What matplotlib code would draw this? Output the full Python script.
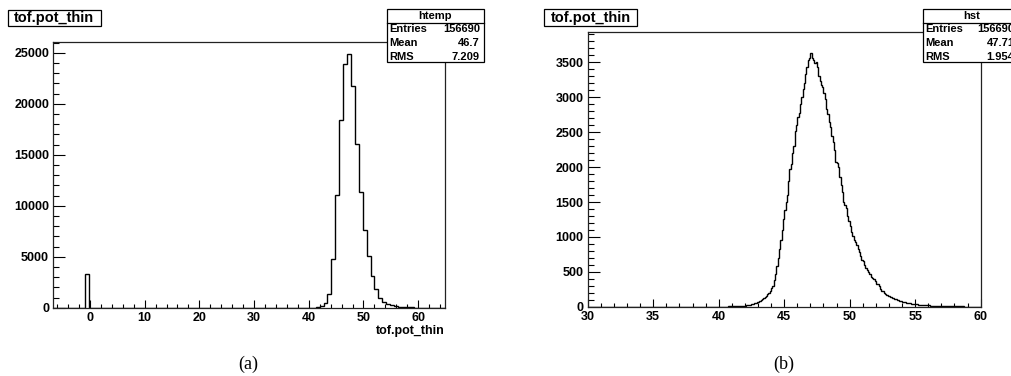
import matplotlib
matplotlib.use("Agg")
import matplotlib.pyplot as plt
import numpy as np
from matplotlib.ticker import MultipleLocator
from matplotlib.patches import Rectangle
from matplotlib.lines import Line2D

# ---------------- data ----------------
title_text = "tof.pot_thin"
xlabel_a = "tof.pot_thin"

# panel (a): htemp, 100 bins
a_xmin, a_xmax, a_nbins = -6.7, 64.9, 100
a_spike = {8: 3270}
a_peak_first_bin = 67
a_peak_counts = [40, 160, 450, 1370, 4770, 11100, 18450, 23950, 24900, 21750,
                 16050, 11400, 7600, 5080, 3100, 1850, 1000, 560, 360, 230,
                 140, 100, 60, 40, 25, 15, 10, 6, 4, 2, 1, 1]
a_stats = [("Entries", "156690"), ("Mean", "46.7"), ("RMS", "7.209")]
a_name = "htemp"

# panel (b): hst, 0.1 wide bins from 30 to 60
b_xmin, b_xmax = 30.0, 60.0
b_30_40 = [0] * 100
b_40_41 = [0, 0, 1, 1, 1, 2, 2, 3, 3, 4]
b_41_42 = [4, 5, 6, 7, 8, 9, 10, 11, 13, 14]
b_42_43 = [16, 19, 22, 26, 30, 35, 42, 48, 55, 62]
b_43_44 = [72, 82, 93, 105, 118, 135, 150, 175, 200, 230]
b_44_45 = [262, 300, 380, 470, 590, 700, 830, 960, 1100, 1250]
b_45_46 = [1380, 1500, 1600, 1800, 1980, 2050, 2200, 2300, 2520, 2600]
b_46_47 = [2720, 2780, 2900, 3000, 3120, 3200, 3330, 3440, 3530, 3560]
b_47_48 = [3640, 3560, 3540, 3490, 3510, 3440, 3300, 3240, 3170, 3150]
b_48_49 = [3060, 2980, 2830, 2760, 2650, 2580, 2440, 2360, 2250, 2080]
b_49_50 = [2060, 2000, 1860, 1740, 1650, 1500, 1450, 1420, 1300, 1230]
b_50_51 = [1150, 1070, 1010, 960, 930, 880, 830, 780, 720, 670]
b_51_52 = [650, 600, 560, 530, 500, 470, 430, 410, 400, 370]
b_52_53 = [320, 330, 290, 250, 230, 220, 200, 180, 170, 160]
b_53_54 = [150, 140, 130, 120, 110, 105, 98, 92, 86, 80]
b_54_55 = [74, 68, 63, 59, 55, 50, 47, 44, 41, 38]
b_55_56 = [36, 33, 31, 29, 27, 25, 23, 22, 20, 19]
b_56_57 = [18, 17, 16, 15, 14, 13, 12, 11, 10, 9]
b_57_58 = [9, 8, 8, 7, 7, 6, 6, 5, 5, 5]
b_58_59 = [4, 4, 4, 3, 3, 3, 3, 2, 2, 2]
b_59_60 = [2, 2, 2, 1, 1, 1, 1, 1, 1, 1]
b_stats = [("Entries", "156690"), ("Mean", "47.71"), ("RMS", "1.954")]
b_name = "hst"

captions = ["(a)", "(b)"]

# ---------------- figure ----------------
W, H = 1012, 376
fig = plt.figure(figsize=(W / 100, H / 100), dpi=100)
SANS = "Liberation Sans"


def fx(px):
    return px / W


def fy(py):
    return 1 - py / H


def add_axes(x0, x1, y0, y1):
    return fig.add_axes([fx(x0), fy(y1), fx(x1 - x0), (y1 - y0) / H])


axa = add_axes(53.3, 445.0, 41.7, 307.7)
axb = add_axes(587.7, 980.7, 31.7, 306.7)

# histogram (a)
a_counts = [0] * a_nbins
for k, v in a_spike.items():
    a_counts[k] = v
for i, v in enumerate(a_peak_counts):
    a_counts[a_peak_first_bin + i] = v
a_edges = np.linspace(a_xmin, a_xmax, a_nbins + 1)
axa.stairs(a_counts, a_edges, color="black", lw=1.0)
axa.set_xlim(a_xmin, a_xmax)
axa.set_ylim(0, 26100)

# histogram (b)
b_counts = (b_30_40 + b_40_41 + b_41_42 + b_42_43 + b_43_44 + b_44_45 + b_45_46 +
            b_46_47 + b_47_48 + b_48_49 + b_49_50 + b_50_51 + b_51_52 + b_52_53 +
            b_53_54 + b_54_55 + b_55_56 + b_56_57 + b_57_58 + b_58_59 + b_59_60)
b_edges = np.linspace(b_xmin, b_xmax, len(b_counts) + 1)
axb.stairs(b_counts, b_edges, color="black", lw=1.0)
axb.set_xlim(b_xmin, b_xmax)
axb.set_ylim(0, 3940)


def style(ax, xmaj, xmin_, ymaj, ymin_, xlen, ylen):
    ax.xaxis.set_major_locator(MultipleLocator(xmaj))
    ax.xaxis.set_minor_locator(MultipleLocator(xmin_))
    ax.yaxis.set_major_locator(MultipleLocator(ymaj))
    ax.yaxis.set_minor_locator(MultipleLocator(ymin_))
    ax.tick_params(axis="both", which="both", direction="in", top=False, right=False,
                   width=0.8, colors="black")
    ax.tick_params(axis="x", which="major", length=xlen, pad=3)
    ax.tick_params(axis="x", which="minor", length=xlen / 2)
    ax.tick_params(axis="y", which="major", length=ylen, pad=3)
    ax.tick_params(axis="y", which="minor", length=ylen / 2)
    for lab in ax.get_xticklabels() + ax.get_yticklabels():
        lab.set_fontfamily(SANS)
        lab.set_fontweight("bold")
        lab.set_fontsize(9)
    for sp in ax.spines.values():
        sp.set_linewidth(0.9)
        sp.set_color("#222222")


style(axa, 10, 2, 5000, 1000, 5.8, 8.5)
style(axb, 5, 1, 500, 100, 5.9, 8.5)

axa.set_xlabel(xlabel_a, fontfamily=SANS, fontweight="bold", fontsize=9,
               loc="right", labelpad=1)


def title_box(x0, x1, y0, y1):
    fig.patches.append(Rectangle((fx(x0), fy(y1)), fx(x1 - x0), (y1 - y0) / H,
                                 transform=fig.transFigure, fill=True, fc="white",
                                 ec="black", lw=0.9))
    fig.text(fx((x0 + x1) / 2), fy((y0 + y1) / 2), title_text, ha="center", va="center",
             fontfamily=SANS, fontweight="bold", fontsize=10.5)


title_box(8.0, 100.7, 10.0, 25.5)
title_box(544.3, 637.3, 9.3, 26.3)


def stat_box(x0, x1, name, stats, vright):
    y0, ydiv, y1 = 9.3, 22.8, 62.3
    fig.patches.append(Rectangle((fx(x0), fy(y1)), fx(x1 - x0), (y1 - y0) / H,
                                 transform=fig.transFigure, fill=True, fc="white",
                                 ec="black", lw=0.9, zorder=5))
    fig.lines.append(Line2D([fx(x0), fx(x1)], [fy(ydiv), fy(ydiv)],
                            transform=fig.transFigure, color="black", lw=0.9, zorder=6))
    fig.text(fx((x0 + x1) / 2), fy((y0 + ydiv) / 2), name, ha="center", va="center",
             fontfamily=SANS, fontweight="bold", fontsize=8, zorder=7)
    rows = [29.5, 43.2, 56.5]
    for (k, v), yy in zip(stats, rows):
        fig.text(fx(x0 + 3), fy(yy), k, ha="left", va="center",
                 fontfamily=SANS, fontweight="bold", fontsize=8, zorder=7)
        fig.text(fx(vright), fy(yy), v, ha="right", va="center",
                 fontfamily=SANS, fontweight="bold", fontsize=8, zorder=7)


stat_box(386.5, 484.0, a_name, a_stats, 480.0)
stat_box(922.7, 1020.0, b_name, b_stats, 1014.5)

fig.text(fx(248), fy(364), captions[0], ha="center", va="center",
         fontfamily="Liberation Serif", fontsize=13)
fig.text(fx(784), fy(364), captions[1], ha="center", va="center",
         fontfamily="Liberation Serif", fontsize=13)

fig.savefig("out.png", dpi=100)
